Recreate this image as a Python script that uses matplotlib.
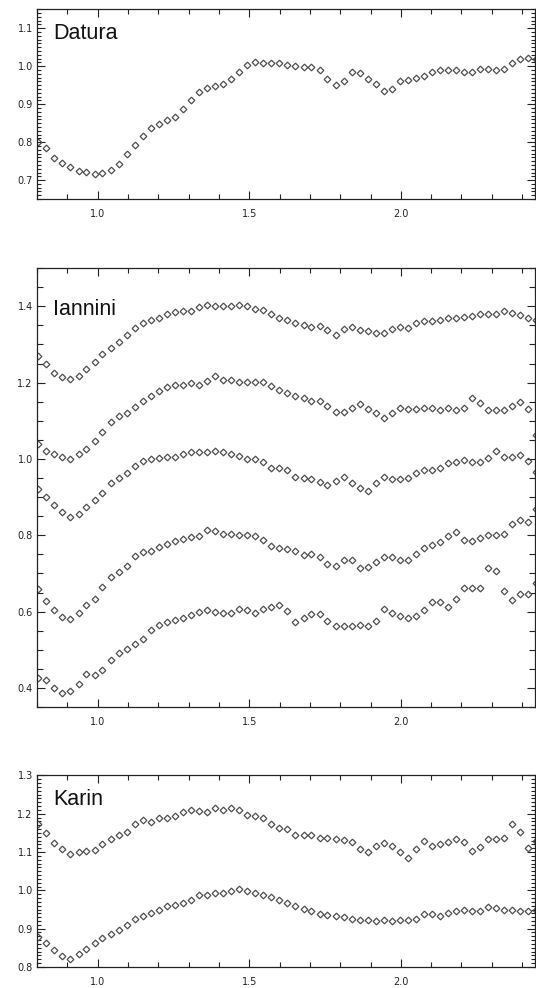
import matplotlib
matplotlib.use('Agg')
import matplotlib.pyplot as plt
from matplotlib.ticker import MultipleLocator, FixedLocator

# wavelength grid (microns)
wavelength = [0.804, 0.831, 0.857, 0.884, 0.910, 0.937, 0.963, 0.990, 1.016, 1.043,
              1.069, 1.096, 1.122, 1.149, 1.175, 1.202, 1.228, 1.255, 1.281, 1.308,
              1.334, 1.361, 1.387, 1.414, 1.440, 1.467, 1.493, 1.520, 1.546, 1.573,
              1.599, 1.626, 1.652, 1.679, 1.705, 1.732, 1.758, 1.785, 1.811, 1.838,
              1.864, 1.891, 1.917, 1.944, 1.970, 1.997, 2.023, 2.050, 2.076, 2.103,
              2.129, 2.156, 2.182, 2.209, 2.235, 2.262, 2.288, 2.315, 2.341, 2.368,
              2.394, 2.421, 2.447]

datura = [0.800, 0.785, 0.757, 0.746, 0.734, 0.724, 0.721, 0.715, 0.719, 0.727,
          0.742, 0.768, 0.792, 0.816, 0.836, 0.849, 0.858, 0.866, 0.888, 0.911,
          0.932, 0.942, 0.949, 0.954, 0.967, 0.984, 1.004, 1.012, 1.009, 1.009,
          1.009, 1.004, 1.000, 0.998, 0.998, 0.989, 0.967, 0.950, 0.962, 0.984,
          0.981, 0.967, 0.952, 0.934, 0.939, 0.960, 0.965, 0.969, 0.975, 0.984,
          0.989, 0.991, 0.989, 0.984, 0.984, 0.994, 0.993, 0.989, 0.993, 1.009,
          1.020, 1.022, 1.018]

iannini_1 = [1.269, 1.248, 1.226, 1.215, 1.210, 1.218, 1.237, 1.254, 1.276, 1.292,
             1.307, 1.324, 1.344, 1.357, 1.365, 1.370, 1.379, 1.385, 1.388, 1.388,
             1.397, 1.403, 1.401, 1.400, 1.400, 1.404, 1.401, 1.394, 1.390, 1.381,
             1.370, 1.365, 1.356, 1.350, 1.346, 1.348, 1.337, 1.325, 1.340, 1.346,
             1.337, 1.335, 1.329, 1.329, 1.340, 1.345, 1.344, 1.356, 1.362, 1.362,
             1.365, 1.370, 1.370, 1.373, 1.374, 1.379, 1.379, 1.380, 1.388, 1.383,
             1.377, 1.370, 1.364]

iannini_2 = [1.038, 1.021, 1.013, 1.004, 0.999, 1.012, 1.025, 1.047, 1.071, 1.096,
             1.112, 1.121, 1.135, 1.152, 1.164, 1.178, 1.189, 1.193, 1.193, 1.198,
             1.195, 1.204, 1.218, 1.208, 1.206, 1.202, 1.201, 1.202, 1.202, 1.191,
             1.181, 1.174, 1.166, 1.159, 1.152, 1.152, 1.140, 1.124, 1.124, 1.133,
             1.144, 1.130, 1.121, 1.108, 1.120, 1.133, 1.130, 1.130, 1.133, 1.133,
             1.128, 1.133, 1.127, 1.133, 1.159, 1.146, 1.128, 1.128, 1.128, 1.139,
             1.150, 1.131, 1.063]

iannini_3 = [0.920, 0.901, 0.879, 0.860, 0.847, 0.857, 0.873, 0.892, 0.912, 0.936,
             0.951, 0.962, 0.981, 0.995, 0.999, 1.003, 1.006, 1.006, 1.012, 1.017,
             1.017, 1.017, 1.020, 1.017, 1.014, 1.008, 0.999, 0.999, 0.991, 0.975,
             0.976, 0.970, 0.954, 0.951, 0.947, 0.939, 0.932, 0.941, 0.954, 0.938,
             0.923, 0.916, 0.936, 0.954, 0.947, 0.947, 0.950, 0.963, 0.970, 0.970,
             0.976, 0.989, 0.992, 0.998, 0.993, 0.993, 1.002, 1.020, 1.006, 1.006,
             1.011, 0.995, 0.967]

iannini_4 = [0.658, 0.629, 0.604, 0.587, 0.580, 0.597, 0.617, 0.632, 0.665, 0.691,
             0.703, 0.719, 0.747, 0.755, 0.758, 0.769, 0.778, 0.784, 0.790, 0.795,
             0.799, 0.813, 0.812, 0.804, 0.804, 0.801, 0.801, 0.797, 0.788, 0.773,
             0.766, 0.764, 0.759, 0.748, 0.751, 0.744, 0.726, 0.720, 0.736, 0.736,
             0.713, 0.716, 0.731, 0.744, 0.744, 0.736, 0.736, 0.751, 0.766, 0.774,
             0.782, 0.797, 0.808, 0.788, 0.784, 0.792, 0.802, 0.802, 0.803, 0.830,
             0.840, 0.834, 0.869]

iannini_5 = [0.425, 0.420, 0.400, 0.388, 0.393, 0.411, 0.437, 0.435, 0.446, 0.473,
             0.492, 0.503, 0.514, 0.529, 0.552, 0.564, 0.573, 0.578, 0.584, 0.591,
             0.600, 0.603, 0.600, 0.597, 0.597, 0.606, 0.603, 0.597, 0.606, 0.611,
             0.618, 0.601, 0.574, 0.582, 0.593, 0.593, 0.575, 0.561, 0.562, 0.562,
             0.565, 0.561, 0.575, 0.608, 0.597, 0.588, 0.582, 0.588, 0.604, 0.625,
             0.625, 0.613, 0.632, 0.661, 0.663, 0.663, 0.714, 0.707, 0.654, 0.630,
             0.646, 0.646, 0.676]

karin_1 = [1.172, 1.150, 1.123, 1.108, 1.095, 1.100, 1.104, 1.106, 1.122, 1.135,
           1.144, 1.152, 1.172, 1.185, 1.179, 1.189, 1.190, 1.194, 1.204, 1.211,
           1.207, 1.205, 1.214, 1.211, 1.216, 1.211, 1.196, 1.194, 1.190, 1.172,
           1.163, 1.159, 1.144, 1.144, 1.144, 1.138, 1.138, 1.135, 1.132, 1.126,
           1.107, 1.100, 1.115, 1.124, 1.115, 1.100, 1.084, 1.107, 1.128, 1.117,
           1.120, 1.126, 1.133, 1.125, 1.103, 1.114, 1.133, 1.133, 1.136, 1.174,
           1.152, 1.111, 1.130]

karin_2 = [0.879, 0.862, 0.844, 0.828, 0.822, 0.833, 0.848, 0.863, 0.875, 0.885,
           0.897, 0.910, 0.926, 0.934, 0.941, 0.950, 0.959, 0.961, 0.967, 0.976,
           0.987, 0.989, 0.994, 0.994, 0.998, 1.003, 0.998, 0.992, 0.988, 0.982,
           0.976, 0.966, 0.959, 0.952, 0.945, 0.939, 0.935, 0.932, 0.930, 0.925,
           0.923, 0.922, 0.921, 0.922, 0.919, 0.922, 0.923, 0.926, 0.937, 0.937,
           0.933, 0.940, 0.946, 0.950, 0.946, 0.946, 0.956, 0.953, 0.949, 0.949,
           0.946, 0.946, 0.948]

panels = [
    ('Datura', [datura], (0.65, 1.15), [0.7, 0.8, 0.9, 1.0, 1.1], 0.01),
    ('Iannini', [iannini_1, iannini_2, iannini_3, iannini_4, iannini_5],
     (0.35, 1.5), [0.4, 0.6, 0.8, 1.0, 1.2, 1.4], 0.05),
    ('Karin', [karin_1, karin_2], (0.8, 1.3), [0.8, 0.9, 1.0, 1.1, 1.2, 1.3], 0.01),
]

# axes boxes in figure fractions (left, bottom, width, height)
boxes = [
    (0.0690, 0.7985, 0.9300, 0.1921),
    (0.0690, 0.2844, 0.9300, 0.4442),
    (0.0690, 0.0213, 0.9300, 0.1938),
]

fig = plt.figure(figsize=(5.36, 9.88), dpi=100)
axcol = '#222222'

for (name, series, ylim, yticks, yminor), box in zip(panels, boxes):
    ax = fig.add_axes(box)
    for s in series:
        ax.plot(wavelength, s, linestyle='none', marker='D', ms=3.4,
                mfc='none', mec='#4d4d4d', mew=0.9)
    ax.set_xlim(0.8, 2.444)
    ax.set_ylim(*ylim)
    ax.xaxis.set_major_locator(FixedLocator([1.0, 1.5, 2.0]))
    ax.xaxis.set_minor_locator(MultipleLocator(0.1))
    ax.yaxis.set_major_locator(FixedLocator(yticks))
    ax.yaxis.set_minor_locator(MultipleLocator(yminor))
    ax.xaxis.set_major_formatter(lambda v, p: '%.1f' % v)
    ax.yaxis.set_major_formatter(lambda v, p: '%.1f' % v)
    ax.tick_params(which='both', direction='in', top=True, right=True,
                   colors=axcol, labelsize=7, width=0.8)
    ax.tick_params(axis='x', which='major', length=6, pad=7)
    ax.tick_params(axis='x', which='minor', length=3.6)
    ax.tick_params(axis='y', which='major', length=6, pad=3)
    ax.tick_params(axis='y', which='minor', length=3.0 if yminor < 0.05 else 4.3)
    for sp in ax.spines.values():
        sp.set_color(axcol)
        sp.set_linewidth(0.9)
    ax.text(0.033, 0.93, name, transform=ax.transAxes, ha='left', va='top',
            fontsize=15.5, family='Liberation Sans', color='#111111')

fig.savefig('out.png', dpi=100)
